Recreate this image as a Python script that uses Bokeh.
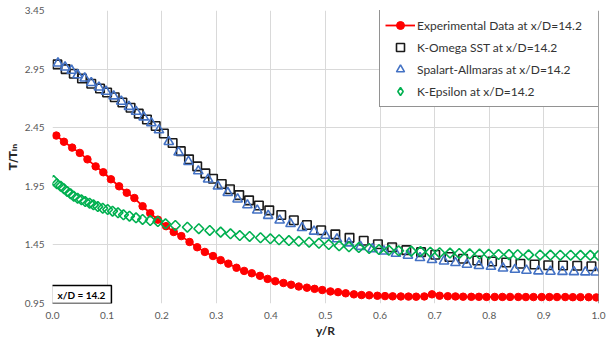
from bokeh.plotting import figure
from bokeh.models import (Legend, LegendItem, Label, Span, FixedTicker,
                          NumeralTickFormatter, Range1d)
from bokeh.embed import file_html
from bokeh.resources import INLINE
import math

# ---------------- data ----------------
exp_x = [0.007, 0.021, 0.036, 0.050, 0.064, 0.079, 0.093, 0.107, 0.122, 0.136,
         0.150, 0.165, 0.179, 0.193, 0.208, 0.222, 0.236, 0.251, 0.265, 0.279,
         0.294, 0.308, 0.322, 0.337, 0.351, 0.365, 0.380, 0.394, 0.408, 0.423,
         0.437, 0.451, 0.466, 0.480, 0.494, 0.509, 0.523, 0.537, 0.552, 0.566,
         0.580, 0.595, 0.609, 0.623, 0.638, 0.652, 0.666, 0.681, 0.695, 0.709,
         0.724, 0.738, 0.752, 0.767, 0.781, 0.795, 0.810, 0.824, 0.838, 0.853,
         0.867, 0.881, 0.896, 0.910, 0.924, 0.939, 0.953, 0.967, 0.982, 0.996]
exp_y = [2.383, 2.330, 2.280, 2.235, 2.180, 2.120, 2.070, 2.010, 1.950, 1.895,
         1.850, 1.780, 1.720, 1.665, 1.610, 1.560, 1.525, 1.475, 1.430, 1.390,
         1.355, 1.320, 1.290, 1.255, 1.228, 1.208, 1.186, 1.160, 1.140, 1.125,
         1.110, 1.095, 1.085, 1.075, 1.065, 1.053, 1.047, 1.037, 1.028, 1.022,
         1.020, 1.016, 1.013, 1.011, 1.010, 1.009, 1.008, 1.010, 1.028, 1.016,
         1.012, 1.010, 1.008, 1.007, 1.007, 1.006, 1.006, 1.006, 1.006, 1.006,
         1.005, 1.005, 1.005, 1.005, 1.005, 1.005, 1.004, 1.004, 1.004, 1.002]

sst_x = [0.009, 0.024, 0.039, 0.054, 0.071, 0.087, 0.100, 0.114, 0.128, 0.143,
         0.158, 0.173, 0.189, 0.204, 0.220, 0.235, 0.250, 0.265, 0.280, 0.294,
         0.310, 0.325, 0.342, 0.360, 0.378, 0.397, 0.419, 0.442, 0.466, 0.492,
         0.518, 0.544, 0.570, 0.596, 0.622, 0.648, 0.675, 0.701, 0.727, 0.752,
         0.778, 0.805, 0.831, 0.857, 0.883, 0.908, 0.935, 0.961, 0.987]
sst_y = [2.990, 2.950, 2.910, 2.870, 2.825, 2.785, 2.750, 2.710, 2.665, 2.620,
         2.570, 2.520, 2.465, 2.400, 2.320, 2.250, 2.180, 2.120, 2.060, 2.015,
         1.970, 1.925, 1.875, 1.830, 1.786, 1.745, 1.705, 1.660, 1.620, 1.575,
         1.540, 1.510, 1.485, 1.455, 1.430, 1.405, 1.388, 1.366, 1.347, 1.332,
         1.317, 1.308, 1.300, 1.289, 1.283, 1.277, 1.274, 1.272, 1.268]

sa_x = [0.010, 0.023, 0.035, 0.046, 0.059, 0.071, 0.085, 0.098, 0.112, 0.126,
        0.140, 0.153, 0.167, 0.181, 0.195, 0.213, 0.231, 0.249, 0.267, 0.285,
        0.303, 0.321, 0.339, 0.357, 0.375, 0.395, 0.416, 0.436, 0.457, 0.479,
        0.500, 0.521, 0.543, 0.564, 0.586, 0.607, 0.629, 0.651, 0.673, 0.695,
        0.717, 0.738, 0.759, 0.781, 0.803, 0.825, 0.847, 0.868, 0.890, 0.912,
        0.934, 0.955, 0.976, 0.995]
sa_y = [3.000, 2.966, 2.938, 2.900, 2.872, 2.833, 2.795, 2.759, 2.719, 2.674,
        2.630, 2.588, 2.540, 2.490, 2.430, 2.330, 2.240, 2.160, 2.080, 2.010,
        1.950, 1.895, 1.840, 1.790, 1.745, 1.700, 1.660, 1.630, 1.596, 1.565,
        1.530, 1.500, 1.465, 1.435, 1.415, 1.396, 1.376, 1.360, 1.340, 1.323,
        1.311, 1.297, 1.283, 1.272, 1.265, 1.251, 1.240, 1.232, 1.226, 1.223,
        1.222, 1.220, 1.218, 1.217]

ke_x = [0.002, 0.008, 0.015, 0.021, 0.027, 0.033, 0.039, 0.046, 0.053, 0.060,
        0.068, 0.075, 0.083, 0.092, 0.101, 0.110, 0.120, 0.130, 0.141, 0.153,
        0.165, 0.179, 0.193, 0.207, 0.225, 0.247, 0.268, 0.288, 0.308, 0.326,
        0.343, 0.361, 0.381, 0.399, 0.415, 0.433, 0.451, 0.470, 0.488, 0.506,
        0.525, 0.543, 0.561, 0.580, 0.598, 0.616, 0.634, 0.657, 0.674, 0.692,
        0.709, 0.728, 0.745, 0.764, 0.782, 0.799, 0.817, 0.836, 0.852, 0.872,
        0.893, 0.912, 0.930, 0.949, 0.967, 0.985, 1.000]
ke_y = [1.999, 1.971, 1.951, 1.929, 1.906, 1.886, 1.865, 1.848, 1.835, 1.820,
        1.806, 1.792, 1.777, 1.763, 1.752, 1.738, 1.724, 1.707, 1.695, 1.681,
        1.667, 1.658, 1.649, 1.630, 1.616, 1.601, 1.588, 1.573, 1.559, 1.545,
        1.530, 1.522, 1.511, 1.502, 1.494, 1.487, 1.481, 1.473, 1.464, 1.453,
        1.442, 1.434, 1.427, 1.419, 1.410, 1.404, 1.400, 1.397, 1.393, 1.388,
        1.383, 1.380, 1.377, 1.374, 1.372, 1.370, 1.368, 1.367, 1.366, 1.365,
        1.364, 1.363, 1.362, 1.362, 1.361, 1.361, 1.360]

x_ticks = [0.0, 0.1, 0.2, 0.3, 0.4, 0.5, 0.6, 0.7, 0.8, 0.9, 1.0]
y_ticks = [0.95, 1.45, 1.95, 2.45, 2.95, 3.45]

labels = ["Experimental Data at x/D=14.2", "K-Omega SST at x/D=14.2",
          "Spalart-Allmaras at x/D=14.2", "K-Epsilon at x/D=14.2"]

# ---------------- figure ----------------
FONT = "Lato"
p = figure(width=612, height=341, output_backend="svg", toolbar_location=None,
           x_range=Range1d(0, 1), y_range=Range1d(0.95, 3.45),
           min_border_left=52, min_border_right=14, min_border_top=10,
           min_border_bottom=38)
p.outline_line_color = None
p.background_fill_color = "white"
p.border_fill_color = "white"

for ax in (p.xaxis[0], p.yaxis[0]):
    ax.axis_line_color = None
    ax.major_tick_line_color = None
    ax.minor_tick_line_color = None
    ax.major_tick_out = 0
    ax.major_tick_in = 0
    ax.major_label_text_font = FONT
    ax.major_label_text_font_size = "10px"
    ax.major_label_text_color = "#595959"
    ax.axis_label_text_font_style = "bold"
    ax.axis_label_text_color = "#262626"

p.xaxis.ticker = FixedTicker(ticks=x_ticks)
p.yaxis.ticker = FixedTicker(ticks=y_ticks)
p.xaxis.formatter = NumeralTickFormatter(format="0.0")
p.yaxis.formatter = NumeralTickFormatter(format="0.00")
p.xaxis.axis_label = "y/R"
p.xaxis.axis_label_text_font = FONT
p.xaxis.axis_label_text_font_size = "12px"
p.yaxis.axis_label = "T/T\u1d62\u2099"
p.yaxis.axis_label_text_font = "DejaVu Sans"
p.yaxis.axis_label_text_font_size = "11px"
p.xaxis.major_label_standoff = 8
p.xaxis.axis_label_standoff = 1
p.yaxis.major_label_standoff = 8
p.yaxis.axis_label_standoff = 2

p.xgrid.ticker = FixedTicker(ticks=x_ticks)
p.ygrid.ticker = FixedTicker(ticks=y_ticks)
for g in (p.xgrid[0], p.ygrid[0]):
    g.grid_line_color = "#D9D9D9"
    g.grid_line_width = 1

# right border line
p.add_layout(Span(location=1.0, dimension="height", line_color="#404040",
                  line_width=1))

# series
r_line = p.line(exp_x, exp_y, line_color="#FF0000", line_width=1.8)
r_pts = p.scatter(exp_x, exp_y, marker="circle", size=7.5,
                  fill_color="#FF0000", line_color="#FF0000")
r_sst = p.scatter(sst_x, sst_y, marker="square", size=8.5, fill_color=None,
                  line_color="#1A1A1A", line_width=1.6)
r_sa = p.scatter(sa_x, sa_y, marker="triangle", size=9.5, fill_color=None,
                 line_color="#4472C4", line_width=1.6)
r_ke = p.scatter(ke_x, ke_y, marker="square", size=7, angle=math.pi / 4,
                 fill_color=None, line_color="#00B050", line_width=1.6)
# legend-only proxy for the diamond glyph (NaN point: nothing drawn in plot)
r_ke_leg = p.scatter([float("nan")], [float("nan")], marker="diamond",
                     size=11, fill_color=None, line_color="#00B050",
                     line_width=1.6)

legend = Legend(items=[
    LegendItem(label=labels[0], renderers=[r_line, r_pts]),
    LegendItem(label=labels[1], renderers=[r_sst]),
    LegendItem(label=labels[2], renderers=[r_sa]),
    LegendItem(label=labels[3], renderers=[r_ke_leg]),
], location=(327, 196))
legend.padding = 5
legend.margin = 0
legend.spacing = 2
legend.glyph_width = 30
legend.glyph_height = 20
legend.label_height = 20
legend.label_standoff = 2
legend.label_width = 189
legend.label_text_font = FONT
legend.label_text_font_size = "12px"
legend.label_text_color = "#333333"
legend.border_line_color = "#262626"
legend.border_line_width = 1
legend.background_fill_color = "white"
legend.background_fill_alpha = 1.0
p.add_layout(legend, "center")

p.add_layout(Label(x=0.0, y=0.95, x_offset=-1, text="x/D = 14.2",
                   anchor="bottom_left", text_font=FONT,
                   text_font_style="bold", text_font_size="10px",
                   text_color="#000000", border_line_color="#000000",
                   border_line_width=1.5, background_fill_color="white",
                   padding=dict(left=6, right=6, top=3, bottom=3)))

open("out.html", "w").write(file_html(p, INLINE))
